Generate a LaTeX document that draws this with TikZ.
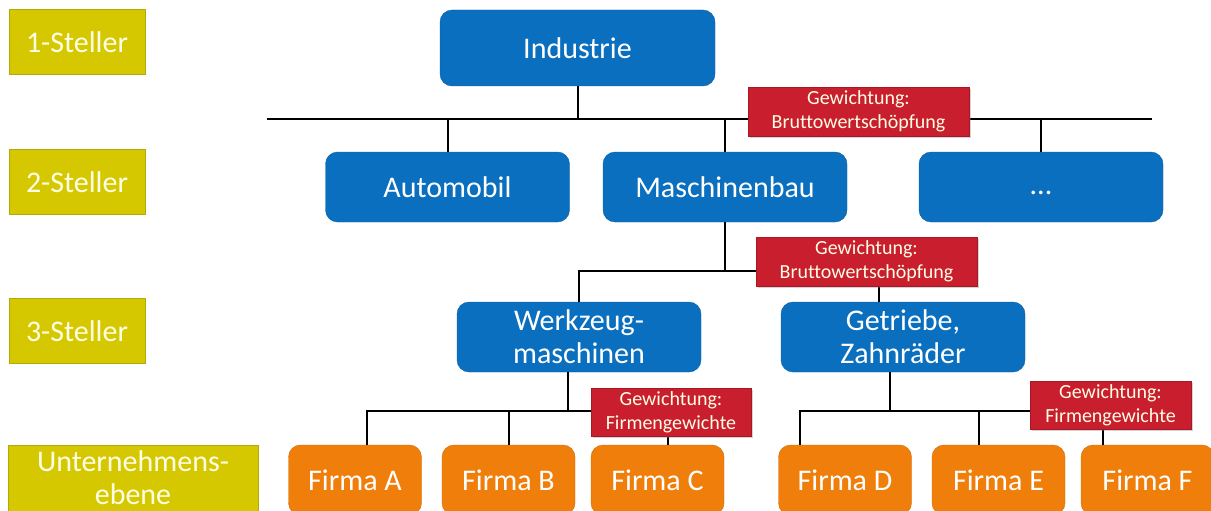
\documentclass[tikz,border=0pt]{standalone}
\usepackage{fontspec}
\setmainfont{Carlito}[Ligatures=NoCommon]
\usetikzlibrary{shadows}

\definecolor{gelbBox}{HTML}{D5C800}
\definecolor{gelbRand}{HTML}{B3A90A}
\definecolor{blauBox}{HTML}{0B6FBF}
\definecolor{blauRand}{HTML}{0A5FA3}
\definecolor{orangeBox}{HTML}{F07E0A}
\definecolor{orangeRand}{HTML}{D26C06}
\definecolor{rotBox}{HTML}{C81E2D}
\definecolor{rotRand}{HTML}{A51824}

\begin{document}
\begin{tikzpicture}[x=1pt,y=-1pt,
    stufe/.style={fill=gelbBox,draw=gelbRand,line width=1pt,text=white!90!yellow,
      minimum width=136pt,minimum height=65pt,inner sep=0pt,align=center,
      font=\fontsize{30}{33}\selectfont},
    branche/.style={fill=blauBox,draw=blauRand,rounded corners=12pt,text=white,
      minimum width=244pt,minimum height=70pt,inner sep=0pt,align=center,
      font=\fontsize{30}{33}\selectfont},
    firma/.style={fill=orangeBox,draw=orangeRand,rounded corners=12pt,text=white,
      minimum width=133pt,minimum height=70pt,inner sep=0pt,
      font=\fontsize{30}{33}\selectfont},
    gewicht/.style={fill=rotBox,draw=rotRand,text=white!90!yellow,
      minimum width=221pt,minimum height=49pt,inner sep=0pt,align=center,
      font=\fontsize{20}{24}\selectfont,
      drop shadow={opacity=0.35,shadow xshift=2pt,shadow yshift=-2pt}},
    linie/.style={line width=2pt,black}]

  \useasboundingbox (0,0) rectangle (1211,511);
  \clip (0,0) rectangle (1211,511);

  % Ebenen links
  \node[stufe] (st1) at (77,42.5) {1-Steller};
  \node[stufe] (st2) at (77,182) {2-Steller};
  \node[stufe] (st3) at (77,331) {3-Steller};
  \node[stufe,minimum width=250pt,minimum height=66pt] (st4) at (133,478) {Unternehmens-\\ebene};

  % Branchen
  \node[branche,minimum width=275pt,minimum height=76pt] (industrie) at (577.5,48) {Industrie};
  \node[branche] (automobil) at (447.5,187) {Automobil};
  \node[branche] (maschinenbau) at (725,187) {Maschinenbau};
  \node[branche] (sonstige) at (1041,187) {\vphantom{Ag}...};
  \node[branche] (werkzeug) at (579,337) {Werkzeug-\\maschinen};
  \node[branche] (getriebe) at (903,337) {Getriebe,\\Zahnräder};

  % Firmen
  \foreach \n/\x in {A/355,B/508.5,C/657.5,D/845,E/998.5,F/1147.5}
    \node[firma] (firma\n) at (\x,480) {Firma \n};

  % 1-Steller -> 2-Steller
  \coordinate (bus1) at (267,119);
  \coordinate (bus1e) at (1152,119);
  \draw[linie] (bus1) -- (bus1e);
  \draw[linie] (industrie) -- (industrie |- bus1);
  \draw[linie] (automobil) -- (automobil |- bus1);
  \draw[linie] (maschinenbau) -- (maschinenbau |- bus1);
  \draw[linie] (sonstige) -- (sonstige |- bus1);

  % 2-Steller -> 3-Steller
  \coordinate (bus2) at (0,271);
  \draw[linie] (maschinenbau) -- (maschinenbau |- bus2);
  \draw[linie] (werkzeug) |- ([xshift=-24pt]getriebe.north |- bus2) -- ([xshift=-24pt]getriebe.north);

  % 3-Steller -> Firmen
  \coordinate (bus3) at (0,411);
  \draw[linie] ([xshift=-11pt]werkzeug.south) -- ([xshift=-11pt]werkzeug.south |- bus3);
  \draw[linie] ([xshift=12pt]firmaA.north) |- ([xshift=10pt]firmaC.north |- bus3) -- ([xshift=10pt]firmaC.north);
  \draw[linie] (firmaB) -- (firmaB |- bus3);
  \draw[linie] ([xshift=-13pt]getriebe.south) -- ([xshift=-13pt]getriebe.south |- bus3);
  \draw[linie] ([xshift=-45pt]firmaD.north) |- ([xshift=-45pt]firmaF.north |- bus3) -- ([xshift=-45pt]firmaF.north);
  \draw[linie] ([xshift=-20pt]firmaE.north) -- ([xshift=-20pt]firmaE.north |- bus3);

  % Gewichtungen
  \node[gewicht] (gew1) at (858.5,111.5) {Gewichtung:\\Bruttowertschöpfung};
  \node[gewicht] (gew2) at (866.5,261.5) {Gewichtung:\\Bruttowertschöpfung};
  \node[gewicht,minimum width=160pt,minimum height=48pt] (gew3) at (671,412) {Gewichtung:\\Firmengewichte};
  \node[gewicht,minimum width=161pt,minimum height=48pt] (gew4) at (1110.5,405) {Gewichtung:\\Firmengewichte};
\end{tikzpicture}
\end{document}
